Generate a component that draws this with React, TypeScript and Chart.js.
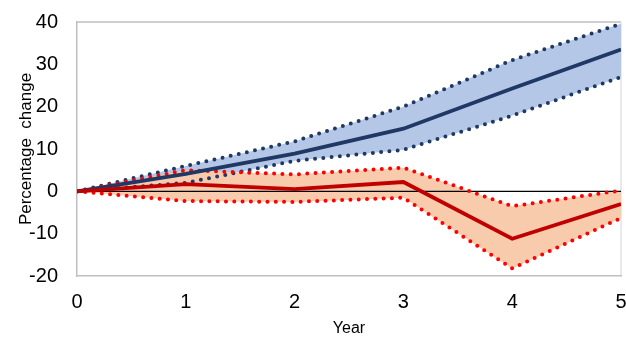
import React, { useEffect, useRef } from "react";
import { Chart, registerables } from "chart.js";

Chart.register(...registerables);

const years = [0, 1, 2, 3, 4, 5];
const blueCentral = [0, 4.1, 8.9, 14.8, 24.3, 33.5];
const blueUpper = [0, 6.0, 11.8, 20.0, 31.0, 39.6];
const blueLower = [0, 2.0, 7.2, 9.8, 17.9, 27.0];
const redCentral = [0, 1.7, 0.5, 2.2, -11.2, -3.0];
const redUpper = [0, 5.0, 4.0, 5.6, -3.5, 0.2];
const redLower = [0, -2.3, -2.5, -1.5, -18.2, -6.3];
const zeroLine = [0, 0, 0, 0, 0, 0];
const yTicks = [-20, -10, 0, 10, 20, 30, 40];

const pts = (vals: number[]) => vals.map((v, i) => ({ x: years[i], y: v }));

const FONT = "'Liberation Sans', Arial, sans-serif";

export default function App() {
  const ref = useRef<HTMLCanvasElement | null>(null);

  useEffect(() => {
    document.body.style.margin = "0";
    const canvas = ref.current!;
    const frame = {
      id: "frame",
      beforeDraw(chart: any) {
        const { ctx, chartArea: a } = chart;
        ctx.save();
        ctx.lineWidth = 1.5;
        ctx.strokeStyle = "#bfbfbf";
        ctx.beginPath();
        ctx.moveTo(a.left, a.top);
        ctx.lineTo(a.right, a.top);
        ctx.stroke();
        ctx.strokeStyle = "#e3e3e3";
        ctx.beginPath();
        ctx.moveTo(a.right, a.top);
        ctx.lineTo(a.right, a.bottom);
        ctx.stroke();
        ctx.restore();
      },
    };
    const dotted = (data: number[], color: string, fill: any, bg?: string) => ({
      data: pts(data),
      borderColor: color,
      borderWidth: 4,
      borderDash: [0, 8.3],
      borderCapStyle: "round",
      pointRadius: 0,
      fill,
      backgroundColor: bg || "transparent",
      tension: 0,
    });
    const chart = new Chart(canvas, {
      type: "line",
      data: {
        datasets: [
          { data: pts(redCentral), borderColor: "#c00000", borderWidth: 3.8, pointRadius: 0, fill: false },
          { data: pts(blueCentral), borderColor: "#1f3864", borderWidth: 3.8, pointRadius: 0, fill: false },
          dotted(redUpper, "#ff0000", "+1", "#f8cbad"),
          dotted(redLower, "#ff0000", false),
          dotted(blueUpper, "#1f3864", "+1", "#b4c7e7"),
          dotted(blueLower, "#1f3864", false),
          { data: pts(zeroLine), borderColor: "#000000", borderWidth: 1.2, pointRadius: 0, fill: false },
        ] as any,
      },
      options: {
        animation: false,
        responsive: false,
        events: [],
        layout: { padding: { left: 12, top: 22, right: 5, bottom: 0 } },
        plugins: {
          legend: { display: false },
          tooltip: { enabled: false },
          filler: { drawTime: "beforeDatasetsDraw" },
        } as any,
        scales: {
          x: {
            type: "linear",
            min: 0,
            max: 5,
            grid: { display: false, drawTicks: false },
            border: { display: true, color: "#bfbfbf", width: 1.5 },
            ticks: {
              stepSize: 1,
              padding: 14,
              color: "#000000",
              font: { family: FONT, size: 20 },
            },
            title: {
              display: true,
              text: "Year",
              color: "#000000",
              font: { family: FONT, size: 16 },
              padding: { top: 0, bottom: 0 },
            },
            afterFit: (s: any) => {
              s.height = 62;
              s.paddingLeft = 0;
              s.paddingRight = 0;
            },
          },
          y: {
            min: -20,
            max: 40,
            grid: { display: false, drawTicks: false },
            border: { display: true, color: "#bfbfbf", width: 1.5 },
            afterBuildTicks: (s: any) => {
              s.ticks = yTicks.map((v) => ({ value: v }));
            },
            ticks: {
              padding: 19,
              color: "#000000",
              font: { family: FONT, size: 20 },
            },
            title: {
              display: true,
              text: "Percentage  change",
              color: "#000000",
              font: { family: FONT, size: 17 },
              padding: { top: 4, bottom: 4 },
            },
            afterFit: (s: any) => {
              s.width = 65;
              s.paddingTop = 0;
              s.paddingBottom = 0;
            },
          },
        },
      } as any,
      plugins: [frame],
    });
    return () => chart.destroy();
  }, []);

  return (
    <div style={{ position: "absolute", left: 0, top: 0, width: 626, height: 338 }}>
      <canvas ref={ref} width={626} height={338} style={{ width: 626, height: 338, display: "block" }} />
    </div>
  );
}
